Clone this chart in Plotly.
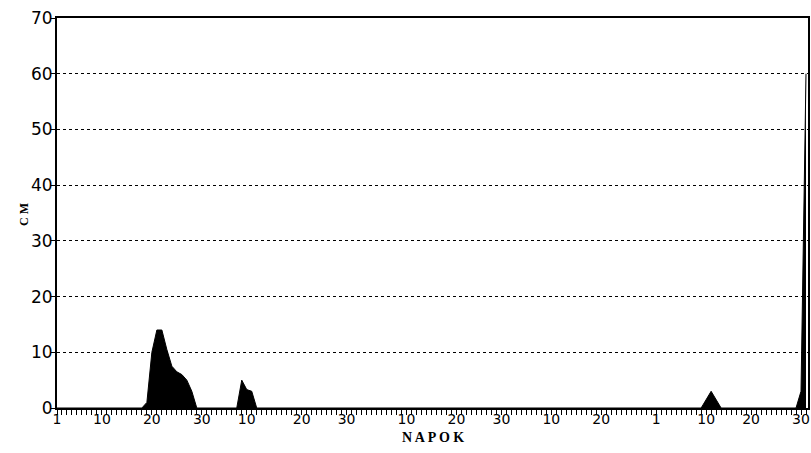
import plotly.graph_objects as go

# Day index from 1 November (0) to 31 March (150)
day = [0, 17, 18, 19, 20, 21, 22, 23, 24, 25, 26, 27, 28,
       36, 37, 38, 39, 40,
       129, 131, 133,
       148, 149, 150]
cm = [0, 0, 1, 10, 14, 14, 10.5, 7.5, 6.5, 6, 5, 3, 0,
      0, 5, 3.3, 3, 0,
      0, 3, 0,
      0, 3, 60]

tick_days = [0, 9, 19, 29, 38, 49, 58, 70, 80, 89, 99, 109, 120, 130, 139, 149]
tick_text = ["1", "10", "20", "30", "10", "20", "30", "10", "20", "30",
             "10", "20", "1", "10", "20", "30"]
y_ticks = [0, 10, 20, 30, 40, 50, 60, 70]

fig = go.Figure()
fig.add_trace(go.Scatter(
    x=day, y=cm, mode="lines", fill="tozeroy",
    line=dict(color="black", width=1), fillcolor="black",
    hoverinfo="skip", showlegend=False, cliponaxis=False))

fig.update_layout(
    width=811, height=453,
    margin=dict(l=57, r=3, t=18, b=45, autoexpand=False),
    paper_bgcolor="white", plot_bgcolor="white",
    font=dict(family="DejaVu Sans", color="black"),
    xaxis=dict(
        range=[0, 150.4], tickmode="array", tickvals=tick_days, ticktext=tick_text,
        ticks="outside", ticklen=5, tickwidth=1, tickcolor="black",
        ticklabelstandoff=-8,
        showgrid=False, zeroline=False, automargin=False,
        showline=True, linecolor="black", linewidth=1.5, mirror=True,
        tickfont=dict(size=14, family="DejaVu Sans"),
        minor=dict(tickmode="linear", tick0=0, dtick=1, ticks="outside",
                   ticklen=5, tickwidth=1, tickcolor="black", showgrid=False),
    ),
    yaxis=dict(
        range=[0, 70], tickmode="array", tickvals=y_ticks,
        ticks="outside", ticklen=4, tickwidth=1, tickcolor="black",
        ticklabelstandoff=-5,
        showgrid=True, gridcolor="black", gridwidth=1, griddash="dot",
        zeroline=False, automargin=False,
        showline=True, linecolor="black", linewidth=2, mirror=True,
        tickfont=dict(size=17, family="DejaVu Sans"),
    ),
    annotations=[
        dict(text="<b>C M</b>", xref="paper", yref="paper", x=0, y=0.495,
             xshift=-42, textangle=-90, showarrow=False,
             font=dict(family="Liberation Serif", size=12, color="black")),
        dict(text="<b>N A P O K</b>", xref="paper", yref="paper", x=0.5, y=0,
             yshift=-29, showarrow=False, yanchor="middle",
             font=dict(family="Liberation Serif", size=14, color="black")),
    ],
)

fig.write_html("out.html", config={"displayModeBar": False},
               post_script="document.body.style.margin='0';")
